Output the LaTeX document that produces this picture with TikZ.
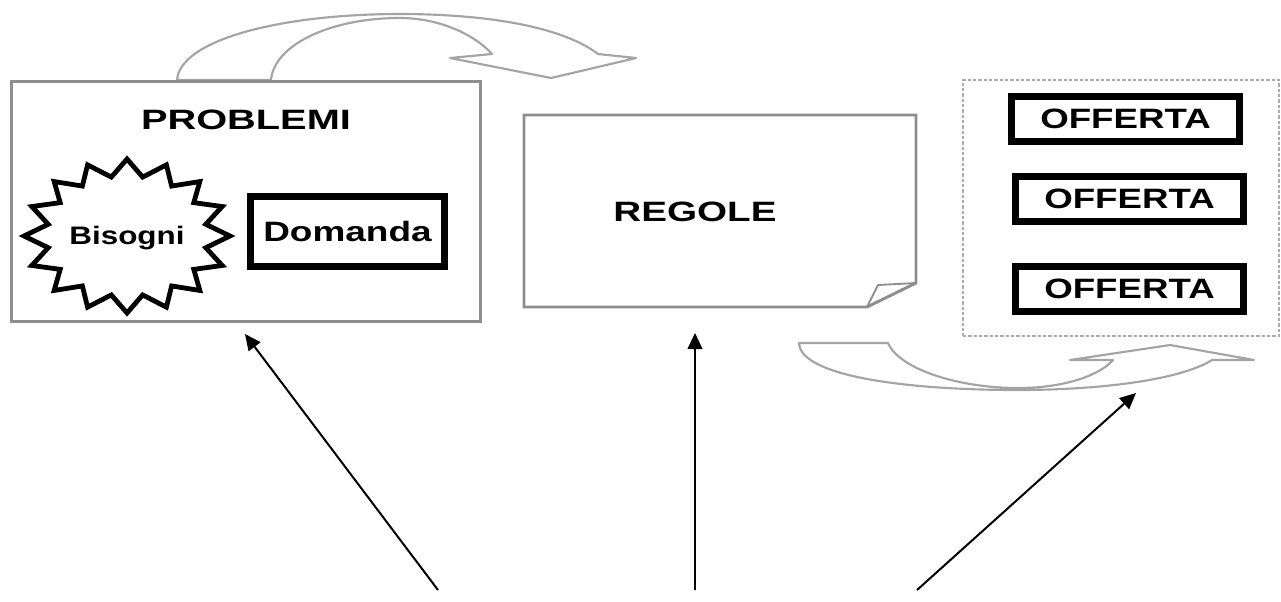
\documentclass[tikz,border=0pt]{standalone}
\usepackage{fontspec}
\setmainfont{Liberation Sans}
\usepackage{graphicx}
\usetikzlibrary{arrows.meta}
\definecolor{framegray}{HTML}{8E8E8E}
\definecolor{arrowgray}{HTML}{A4A4A4}
\definecolor{dotgray}{HTML}{ABABAB}
\newcommand\xstr[2]{\scalebox{#1}[1]{#2}}
\begin{document}
\begin{tikzpicture}[x=0.75pt,y=-0.75pt,
  lbl/.style={font=\fontsize{21}{21}\selectfont\bfseries, inner sep=0pt},
  framebox/.style={draw=framegray, line width=2.2pt, fill=white, inner sep=0pt},
  dotbox/.style={draw=dotgray, line width=1.4pt, dash pattern=on 2.5pt off 1.5pt, inner sep=0pt},
  blackbox/.style={draw=black, line width=5pt, fill=white, inner sep=0pt, font=\fontsize{21}{21}\selectfont\bfseries},
  starline/.style={draw=black, line width=3.6pt, line join=miter, miter limit=4, fill=white},
  blockarrow/.style={draw=arrowgray, line width=1.6pt, fill=white, line join=round},
  pointer/.style={draw=black, line width=1.5pt, -{Triangle[length=12pt,width=11pt]}}
]
\useasboundingbox (0,0) rectangle (1281,601);

% curved block arrow on top
\path[blockarrow] (177,80) -- (271,80)
  .. controls (274,45) and (330,18) .. (400,18)
  .. controls (440,18) and (475,35) .. (492,54)
  -- (450,58) -- (551,78) -- (636,58) -- (598,54)
  .. controls (560,25) and (480,14) .. (400,14)
  .. controls (280,14) and (180,40) .. (177,80) -- cycle;

% PROBLEMI container
\node[framebox, minimum width=351.75pt, minimum height=180pt] (probbox) at (246,201.5) {};
\node[lbl] (problemi) at (246,120) {\xstr{1.42}{PROBLEMI}};

% starburst Bisogni
\path[starline] plot[samples at={0,...,31}, variable=\t]
  ({127+103*(0.89+0.11*cos(\t*180))*cos(\t*11.25)}, {236-77*(0.89+0.11*cos(\t*180))*sin(\t*11.25)}) -- cycle;
\node[font=\fontsize{19}{19}\selectfont\bfseries, inner sep=0pt, anchor=base] (bisogni) at (127,244) {\xstr{1.24}{Bisogni}};

% Domanda
\node[blackbox, minimum width=145.7pt, minimum height=52.7pt] (domanda) at (347.5,231.5) {\xstr{1.32}{Domanda}};

% REGOLE sheet with folded corner
\path[framebox] (524,115) -- (916,115) -- (916,283) -- (867,307) -- (524,307) -- cycle;
\path[draw=framegray, line width=1.4pt, line join=round] (867,307) -- (878,285) -- (916,283);
\node[lbl] (regole) at (695,212) {\xstr{1.38}{REGOLE}};

% OFFERTA container
\node[dotbox, minimum width=237pt, minimum height=192pt] (offbox) at (1121,208) {};
\node[blackbox, minimum width=171pt, minimum height=34pt] (off1) at (1125.5,119) {\xstr{1.31}{OFFERTA}};
\node[blackbox, minimum width=171pt, minimum height=34pt] (off2) at (1129.5,199) {\xstr{1.31}{OFFERTA}};
\node[blackbox, minimum width=171pt, minimum height=34pt] (off3) at (1129.5,289) {\xstr{1.31}{OFFERTA}};

% curved block arrow at bottom
\path[blockarrow] (799,343) -- (888,343)
  .. controls (900,370) and (960,388) .. (1018,388)
  .. controls (1065,388) and (1100,375) .. (1113,360)
  -- (1070,360) -- (1170,345) -- (1254,360) -- (1212,360)
  .. controls (1180,380) and (1100,390) .. (1018,390)
  .. controls (900,390) and (800,375) .. (799,343) -- cycle;

% pointers
\coordinate (s1) at (438,590);
\coordinate (t1) at (245,334);
\coordinate (s2) at (695,590);
\coordinate (t2) at (695,333);
\coordinate (s3) at (917,590);
\coordinate (t3) at (1136,393);
\draw[pointer] (s1) -- (t1);
\draw[pointer] (s2) -- (t2);
\draw[pointer] (s3) -- (t3);
\end{tikzpicture}
\end{document}
